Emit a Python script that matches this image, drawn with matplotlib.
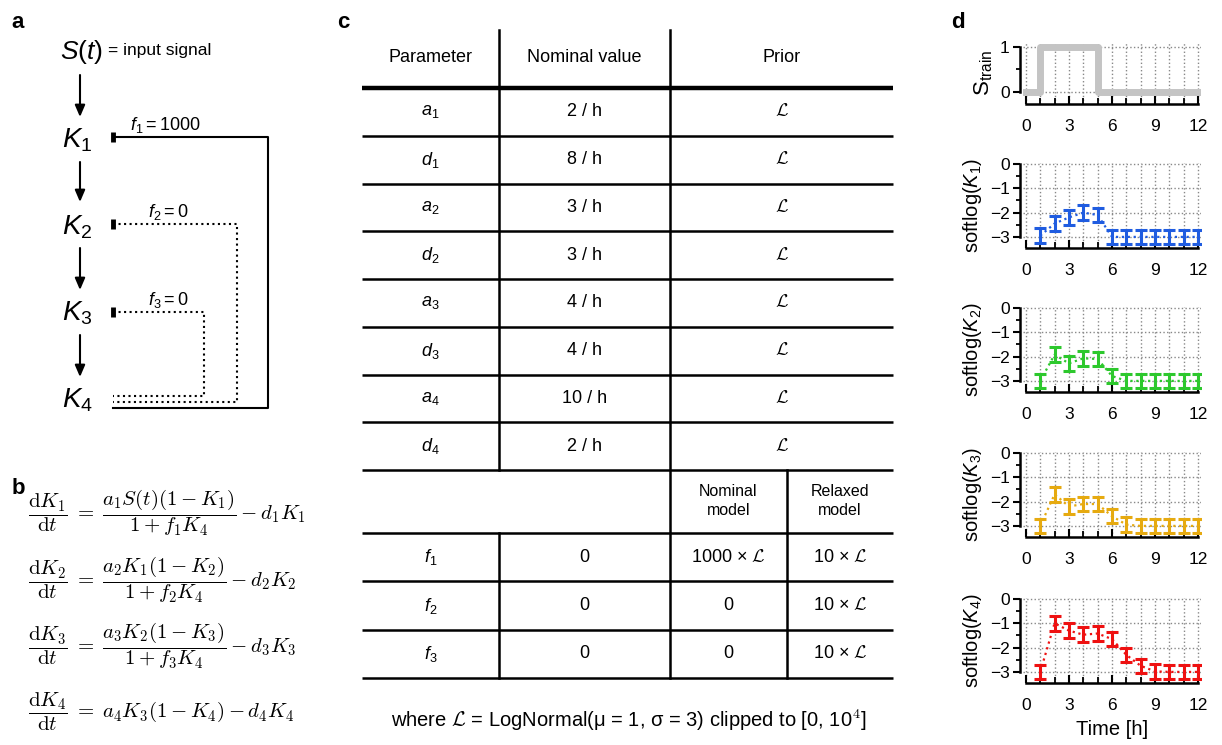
import numpy as np
import matplotlib
matplotlib.use("Agg")
import matplotlib.pyplot as plt

plt.rcParams['font.family'] = ['Liberation Sans', 'DejaVu Sans']
plt.rcParams['mathtext.fontset'] = 'custom'
plt.rcParams['mathtext.rm'] = 'Liberation Sans'
plt.rcParams['mathtext.it'] = 'Liberation Sans:italic'
plt.rcParams['mathtext.bf'] = 'Liberation Sans:bold'

# ---- data ----
t_signal = np.arange(0, 13)
s_train = [0, 1, 1, 1, 1, 0, 0, 0, 0, 0, 0, 0, 0]

t_obs = np.arange(1, 13)
k1 = [-2.95, -2.45, -2.2, -2.0, -2.1, -3.0, -3.0, -3.0, -3.0, -3.0, -3.0, -3.0]
k2 = [-3.0, -1.92, -2.28, -2.07, -2.1, -2.8, -3.0, -3.0, -3.0, -3.0, -3.0, -3.0]
k3 = [-3.0, -1.7, -2.2, -2.1, -2.1, -2.6, -2.95, -3.0, -3.0, -3.0, -3.0, -3.0]
k4 = [-3.0, -1.0, -1.3, -1.47, -1.42, -1.65, -2.3, -2.75, -2.98, -3.0, -3.0, -3.0]
k_err = 0.3

species = ['K_1', 'K_2', 'K_3', 'K_4']
colors = ['#1f5ce0', '#2dc82d', '#e6aa10', '#ee1111']

params = ['a_1', 'd_1', 'a_2', 'd_2', 'a_3', 'd_3', 'a_4', 'd_4']
nominal = ['2 / h', '8 / h', '3 / h', '3 / h', '4 / h', '4 / h', '10 / h', '2 / h']
f_params = ['f_1', 'f_2', 'f_3']
f_nominal = ['0', '0', '0']
f_prior_nom = [r'1000 × $\mathcal{L}$', '0', '0']
f_prior_rel = [r'10 × $\mathcal{L}$'] * 3

equations = [
    r'$\dfrac{\mathrm{d}K_1}{\mathrm{d}t}\;=\;\dfrac{a_1 S(t)(1-K_1)}{1+f_1K_4} - d_1K_1$',
    r'$\dfrac{\mathrm{d}K_2}{\mathrm{d}t}\;=\;\dfrac{a_2 K_1(1-K_2)}{1+f_2K_4} - d_2K_2$',
    r'$\dfrac{\mathrm{d}K_3}{\mathrm{d}t}\;=\;\dfrac{a_3 K_2(1-K_3)}{1+f_3K_4} - d_3K_3$',
    r'$\dfrac{\mathrm{d}K_4}{\mathrm{d}t}\;=\;a_4K_3(1-K_4) - d_4K_4$',
]

W, H = 1222, 745
fig = plt.figure(figsize=(W / 100, H / 100), dpi=100)

# overlay in pixel coordinates for panels a-c
ax0 = fig.add_axes([0, 0, 1, 1])
ax0.set_xlim(0, W)
ax0.set_ylim(H, 0)
ax0.axis('off')

for lab, x, y in [('a', 18, 22), ('b', 18, 488), ('c', 343, 22), ('d', 958, 22)]:
    ax0.text(x, y, lab, fontsize=16, fontweight='bold', ha='center', va='center')

# ---- panel a ----
ax0.text(60, 52, r'$S(t)$', fontsize=19, ha='left', va='center')
ax0.text(108, 50, '= input signal', fontsize=12.5, ha='left', va='center')
k_y = [140, 227, 313, 400]
arrow_y = [(75, 117), (162, 202), (248, 290), (335, 377)]
for i, name in enumerate(species):
    ax0.text(77, k_y[i], '$' + name + '$', fontsize=20, ha='center', va='center')
for y0, y1 in arrow_y:
    ax0.annotate('', xy=(80, y1), xytext=(80, y0),
                 arrowprops=dict(arrowstyle='-|>,head_length=0.7,head_width=0.3',
                                 color='k', lw=1.5, shrinkA=0, shrinkB=0))
# feedback lines
fb = [(137, 268, 408, '-', r'$f_1 = 1000$', 130), (224, 237, 402, ':', r'$f_2 = 0$', 148),
      (312, 204, 396, ':', r'$f_3 = 0$', 148)]
for ytop, xr, ybot, ls, lab, xl in fb:
    ax0.plot([113, xr, xr, 113], [ytop, ytop, ybot, ybot], color='k', ls=ls, lw=1.5)
    ax0.plot([113, 113], [ytop - 5, ytop + 5], color='k', lw=3.5, solid_capstyle='butt')
    ax0.text(xl, ytop - 12, lab, fontsize=13, ha='left', va='center')

# ---- panel b ----
eq_y = [513, 580, 646, 712]
for eq, y in zip(equations, eq_y):
    ax0.text(28, y, eq, fontsize=15, ha='left', va='center', math_fontfamily='cm')

# ---- panel c (table) ----
xl, xc1, xc2, xc3, xr = 362, 499, 670, 787, 893
fs = 13
ax0.text((xl + xc1) / 2, 58, 'Parameter', fontsize=fs, ha='center', va='center')
ax0.text((xc1 + xc2) / 2, 58, 'Nominal value', fontsize=fs, ha='center', va='center')
ax0.text((xc2 + xr) / 2, 58, 'Prior', fontsize=fs, ha='center', va='center')
ax0.plot([xl, xr], [88, 88], color='k', lw=3.2, solid_capstyle='butt')
row_h = (470 - 88) / len(params)
for i, (p, v) in enumerate(zip(params, nominal)):
    yc = 88 + (i + 0.5) * row_h
    ax0.text((xl + xc1) / 2, yc, r'$\mathit{' + p + '}$', fontsize=fs, ha='center', va='center')
    ax0.text((xc1 + xc2) / 2, yc, v, fontsize=fs, ha='center', va='center')
    ax0.text((xc2 + xr) / 2, yc, r'$\mathcal{L}$', fontsize=fs, ha='center', va='center',
             math_fontfamily='cm')
    ax0.plot([xl, xr], [88 + (i + 1) * row_h] * 2, color='k', lw=1.8, solid_capstyle='butt')
ax0.text((xc2 + xc3) / 2, 501, 'Nominal\nmodel', fontsize=11.5, ha='center', va='center',
         linespacing=1.4)
ax0.text((xc3 + xr) / 2, 501, 'Relaxed\nmodel', fontsize=11.5, ha='center', va='center',
         linespacing=1.4)
ax0.plot([xl, xr], [533, 533], color='k', lw=1.8, solid_capstyle='butt')
frow_h = (678 - 533) / len(f_params)
for i in range(len(f_params)):
    yc = 533 + (i + 0.5) * frow_h
    ax0.text((xl + xc1) / 2, yc, r'$\mathit{' + f_params[i] + '}$', fontsize=fs,
             ha='center', va='center')
    ax0.text((xc1 + xc2) / 2, yc, f_nominal[i], fontsize=fs, ha='center', va='center')
    ax0.text((xc2 + xc3) / 2, yc, f_prior_nom[i], fontsize=fs, ha='center', va='center',
             math_fontfamily='cm')
    ax0.text((xc3 + xr) / 2, yc, f_prior_rel[i], fontsize=fs, ha='center', va='center',
             math_fontfamily='cm')
    ax0.plot([xl, xr], [533 + (i + 1) * frow_h] * 2, color='k', lw=1.8, solid_capstyle='butt')
ax0.plot([xc1, xc1], [30, 470], color='k', lw=1.8)
ax0.plot([xc1, xc1], [533, 678], color='k', lw=1.8)
ax0.plot([xc2, xc2], [30, 678], color='k', lw=1.8)
ax0.plot([xc3, xc3], [470, 678], color='k', lw=1.8)
ax0.text((xl + xr) / 2 + 1, 720,
         r'where $\mathcal{L}$ = LogNormal(μ = 1, σ = 3) clipped to [0, 10$^{4}$]',
         fontsize=14.5, ha='center', va='center', math_fontfamily='cm')


# ---- panel d ----
def px_axes(left, top, right, bottom):
    return fig.add_axes([left / W, 1 - bottom / H, (right - left) / W, (bottom - top) / H])


def style(ax, ylo, yhi, yticks):
    ax.set_xlim(-0.2, 12.2)
    ax.spines['top'].set_visible(False)
    ax.spines['right'].set_visible(False)
    ax.spines['left'].set_bounds(ylo, yhi)
    ax.spines['left'].set_position(('outward', 2.5))
    ax.spines['bottom'].set_bounds(0, 12)
    for sp in ['left', 'bottom']:
        ax.spines[sp].set_linewidth(1.8)
    ax.set_xticks([0, 3, 6, 9, 12])
    ax.set_xticks(range(13), minor=True)
    ax.set_yticks(yticks)
    ax.set_yticks(np.arange(ylo, yhi + 0.01, 0.5), minor=True)
    ax.tick_params(axis='x', which='major', direction='in', length=6, width=1.5,
                   labelsize=12.5, pad=11)
    ax.tick_params(axis='x', which='minor', direction='in', length=4, width=1.3)
    ax.tick_params(axis='y', which='major', direction='out', length=5, width=1.5,
                   labelsize=12.5, pad=2)
    ax.tick_params(axis='y', which='minor', direction='out', length=3, width=1.3)
    ax.grid(True, axis='x', which='both', ls=':', color='#888888', lw=1)
    ax.grid(True, axis='y', which='major', ls=':', color='#888888', lw=1)
    ax.set_axisbelow(True)


ax_s = px_axes(1023, 47 - 0.1 * 45, 1201, 104)
ax_s.set_ylim(-0.27, 1.1)
ax_s.plot(t_signal, s_train, drawstyle='steps-post', color='#c4c4c4', lw=5)
style(ax_s, 0, 1, [0, 1])
ax_s.set_yticklabels(['0', '1'])
ax_s.set_ylabel(r'S$_\mathrm{train}$', fontsize=16, labelpad=4)

k_zero = [164, 308, 453, 599]
for i, (vals, c) in enumerate(zip([k1, k2, k3, k4], colors)):
    ax = px_axes(1023, k_zero[i] - 0.05 * 24.3, 1201, k_zero[i] + 3.45 * 24.3)
    ax.set_ylim(-3.45, 0.05)
    ax.errorbar(t_obs, vals, yerr=k_err, color=c, ls=':', lw=1.6, elinewidth=2.2,
                capsize=4.5, capthick=2.2)
    style(ax, -3, 0, [-3, -2, -1, 0])
    ax.set_yticklabels(['\u22123', '\u22122', '\u22121', '0'])
    ax.set_ylabel('softlog($' + species[i] + '$)', fontsize=14.5, labelpad=4)
    if i == 3:
        ax.set_xlabel('Time [h]', fontsize=14.5, labelpad=5)

fig.savefig('out.png', dpi=100)
